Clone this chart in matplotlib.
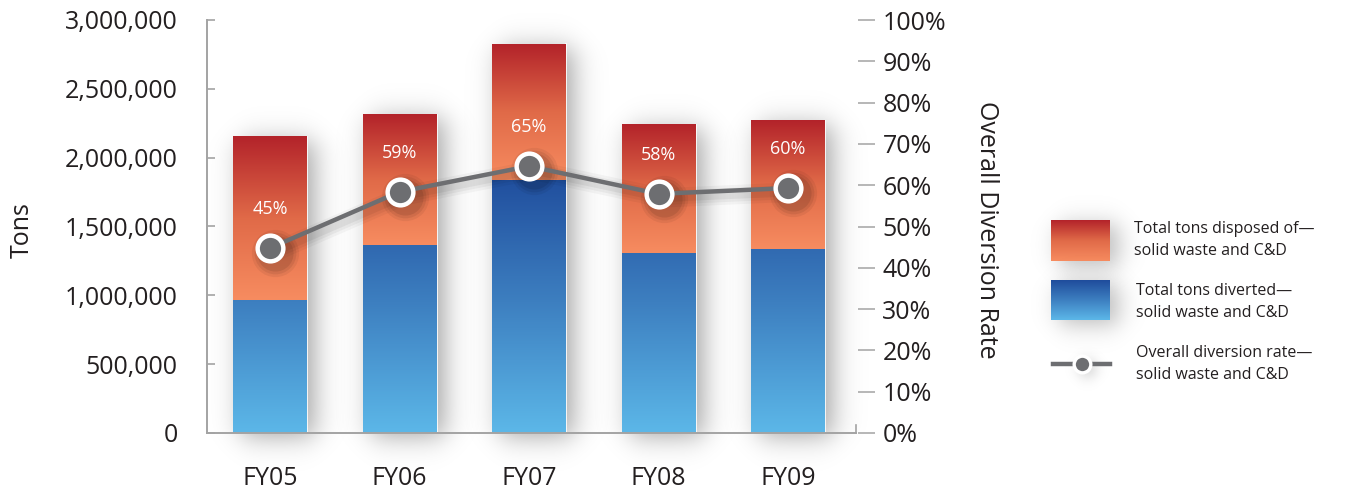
import numpy as np
import matplotlib
matplotlib.use("Agg")
import matplotlib.pyplot as plt
from matplotlib.colors import LinearSegmentedColormap
from matplotlib.ticker import FuncFormatter

# ---------------- data ----------------
categories = ["FY05", "FY06", "FY07", "FY08", "FY09"]
diverted = [965000, 1365000, 1840000, 1305000, 1335000]      # tons diverted
disposed = [1185000, 945000, 985000, 930000, 930000]         # tons disposed of
rate = [44.8, 58.4, 64.6, 57.9, 59.3]                        # overall diversion rate (%)
rate_labels = ["45%", "59%", "65%", "58%", "60%"]
left_ticks = [0, 500000, 1000000, 1500000, 2000000, 2500000, 3000000]
right_ticks = [0, 10, 20, 30, 40, 50, 60, 70, 80, 90, 100]
legend_labels = ["Total tons disposed of\u2014\nsolid waste and C&D",
                 "Total tons diverted\u2014\nsolid waste and C&D",
                 "Overall diversion rate\u2014\nsolid waste and C&D"]

FONT = "Open Sans"
plt.rcParams["font.family"] = [FONT, "DejaVu Sans"]
TXT = "#231f20"
GRAY_AX = "#a3a3a3"

red_cmap = LinearSegmentedColormap.from_list("red", ["#f78c60", "#e06a48", "#b3232a"])
blue_cmap = LinearSegmentedColormap.from_list("blue", ["#5cb7e8", "#3d7fc0", "#1f4c9c"])

W, H = 1345, 493
fig = plt.figure(figsize=(W / 100, H / 100), dpi=100)
ax_l, ax_r, ax_t, ax_b = 207, 856, 20, 433
ax = fig.add_axes([ax_l / W, (H - ax_b) / H, (ax_r - ax_l) / W, (ax_b - ax_t) / H])

x = np.arange(len(categories))
xlim = (-0.487, 4.525)
ylim = (0, 3000000)
bar_w = 0.565
ax.set_xlim(*xlim)
ax.set_ylim(*ylim)

sx = (xlim[1] - xlim[0]) / (ax_r - ax_l)   # data units per px (x)
sy = (ylim[1] - ylim[0]) / (ax_b - ax_t)   # data units per px (y)


def sig(t):
    return 1.0 / (1.0 + np.exp(-t))


def shadow(x0, x1, y0, y1, dx=8, dy=4, s=8.0, amax=0.36, z=1):
    # pixel-space soft drop shadow for a rect in data coords
    pad = 50
    ex0 = x0 - pad * sx
    ex1 = x1 + (pad + dx) * sx
    ey0 = y0 - (pad + dy) * sy
    ey1 = y1 + pad * sy
    nx = int((ex1 - ex0) / sx)
    ny = int((ey1 - ey0) / sy)
    px = np.linspace(ex0, ex1, nx) / sx
    py = np.linspace(ey0, ey1, ny) / sy
    a0, a1 = x0 / sx + dx, x1 / sx + dx
    b0, b1 = y0 / sy - dy, y1 / sy - dy
    fx = sig((px - a0) / s) - sig((px - a1) / s)
    fy = sig((py - b0) / s) - sig((py - b1) / s)
    alpha = np.outer(fy, fx) * amax
    img = np.zeros((ny, nx, 4))
    img[..., 3] = alpha
    ax.imshow(img, extent=(ex0, ex1, ey0, ey1), origin="lower", aspect="auto",
              zorder=z, clip_on=False, interpolation="bilinear")


bottoms = np.array(diverted)
tops = bottoms + np.array(disposed)
for i in range(len(categories)):
    x0, x1 = x[i] - bar_w / 2, x[i] + bar_w / 2
    shadow(x0, x1, 0, tops[i])
    # thin white separation on the right edge
    ax.plot([x1 + 0.8 * sx] * 2, [0, tops[i]], color="white", lw=1.2, zorder=1.5)
    # blue: absolute gradient
    vmax_frac = diverted[i] / 1900000
    arr = np.linspace(0, vmax_frac, 256).reshape(-1, 1)
    ax.imshow(arr, cmap=blue_cmap, vmin=0, vmax=1, extent=(x0, x1, 0, diverted[i]),
              origin="lower", aspect="auto", zorder=2, interpolation="bilinear")
    # red: per-segment gradient
    arr = np.linspace(0, 1, 256).reshape(-1, 1)
    ax.imshow(arr, cmap=red_cmap, vmin=0, vmax=1, extent=(x0, x1, diverted[i], tops[i]),
              origin="lower", aspect="auto", zorder=2, interpolation="bilinear")

ax.set_xlim(*xlim)
ax.set_ylim(*ylim)

# axes styling
for sp in ["top", "right"]:
    ax.spines[sp].set_visible(False)
ax.spines["left"].set_color(GRAY_AX)
ax.spines["bottom"].set_color(GRAY_AX)
ax.spines["left"].set_linewidth(1.4)
ax.spines["bottom"].set_linewidth(1.4)
ax.spines["bottom"].set_zorder(3)
ax.set_yticks(left_ticks)
ax.yaxis.set_major_formatter(FuncFormatter(lambda v, p: f"{int(v):,}"))
ax.tick_params(axis="y", direction="in", length=6, width=1.2, color=GRAY_AX,
               labelsize=18, labelcolor=TXT, pad=21)
ax.set_xticks(x)
ax.set_xticklabels(categories)
ax.tick_params(axis="x", length=0, labelsize=18, labelcolor=TXT, pad=24)
# small end tick at right end of x-axis
ax.plot([xlim[1], xlim[1]], [0, 8 * sy], color=GRAY_AX, lw=1.2, clip_on=False, zorder=3)

# right axis
ax2 = ax.twinx()
ax2.set_ylim(0, 100)
ax2.set_yticks(right_ticks)
ax2.set_yticklabels([f"{t}%" for t in right_ticks])
for sp in ax2.spines.values():
    sp.set_visible(False)
ax2.tick_params(axis="y", direction="out", length=12, width=1.1, color=GRAY_AX,
                labelsize=18, labelcolor=TXT, pad=7)
ax2.patch.set_visible(False)
# shift right-axis tick marks 2px away from the axis end
import matplotlib.transforms as mtransforms
off = mtransforms.ScaledTranslation(2 / 100, 0, fig.dpi_scale_trans)
for t in ax2.yaxis.get_major_ticks():
    t.tick2line.set_transform(t.tick2line.get_transform() + off)

# line shadow (soft, layered)
for lw, a in [(14, 0.035), (10, 0.045), (6, 0.055)]:
    ax2.plot(x + 4 * sx, np.array(rate) - 4 * 100 / 413, color="k", lw=lw, alpha=a,
             solid_capstyle="round", zorder=3)
    ax2.scatter(x + 5 * sx, np.array(rate) - 5 * 100 / 413, s=(20 + lw) ** 2, color="k",
                alpha=a * 1.6, linewidths=0, zorder=3)
ax2.plot(x, rate, color="#6d6e71", lw=3.2, zorder=4)
ax2.plot(x, rate, linestyle="none", marker="o", markersize=18.5, markerfacecolor="#6d6e71",
         markeredgecolor="white", markeredgewidth=3.2, zorder=5)
for i, lab in enumerate(rate_labels):
    ax2.annotate(lab, (x[i], rate[i]), xytext=(0, 28), textcoords="offset points",
                 ha="center", va="center", color="white", fontsize=13, zorder=6)

# overlay axes in pixel coordinates for labels and legend
lax = fig.add_axes([0, 0, 1, 1], zorder=-1)
lax.set_xlim(0, W)
lax.set_ylim(H, 0)
lax.axis("off")
lax.text(22, 230, "Tons", rotation=90, ha="center", va="center", fontsize=18, color=TXT)
lax.text(986, 230, "Overall Diversion Rate", rotation=-90, ha="center", va="center",
         fontsize=18, color=TXT)


def lshadow(x0, x1, y0, y1, dx=8, dy=4, s=7.0, amax=0.28):
    pad = 40
    ex0, ex1 = x0 - pad, x1 + pad + dx
    ey0, ey1 = y0 - pad, y1 + pad + dy
    px = np.arange(ex0, ex1)
    py = np.arange(ey0, ey1)
    fx = sig((px - (x0 + dx)) / s) - sig((px - (x1 + dx)) / s)
    fy = sig((py - (y0 + dy)) / s) - sig((py - (y1 + dy)) / s)
    img = np.zeros((len(py), len(px), 4))
    img[..., 3] = np.outer(fy, fx) * amax
    lax.imshow(img, extent=(ex0, ex1, ey1, ey0), origin="upper", aspect="auto",
               interpolation="bilinear")


grad = np.linspace(1, 0, 256).reshape(-1, 1)
lshadow(1051, 1110, 220, 261)
lax.imshow(grad, cmap=red_cmap, vmin=0, vmax=1, extent=(1051, 1110, 261, 220),
           origin="upper", aspect="auto")
lshadow(1051, 1110, 280, 320)
lax.imshow(grad, cmap=blue_cmap, vmin=0, vmax=1, extent=(1051, 1110, 320, 280),
           origin="upper", aspect="auto")
lshadow(1075, 1091, 356, 372, s=4, amax=0.2, dx=4, dy=4)
lax.plot([1053, 1110], [364, 364], color="#6d6e71", lw=3.2)
lax.plot([1082], [364], marker="o", markersize=12, markerfacecolor="#6d6e71",
         markeredgecolor="white", markeredgewidth=2.4)
lax.set_xlim(0, W)
lax.set_ylim(H, 0)

leg_y = [240, 302, 364]
leg_x = [1134, 1136, 1136]
for lab, xx, yy in zip(legend_labels, leg_x, leg_y):
    lax.text(xx, yy, lab, ha="left", va="center", fontsize=11.5, color=TXT, linespacing=1.45)

fig.savefig("out.png", dpi=100)
